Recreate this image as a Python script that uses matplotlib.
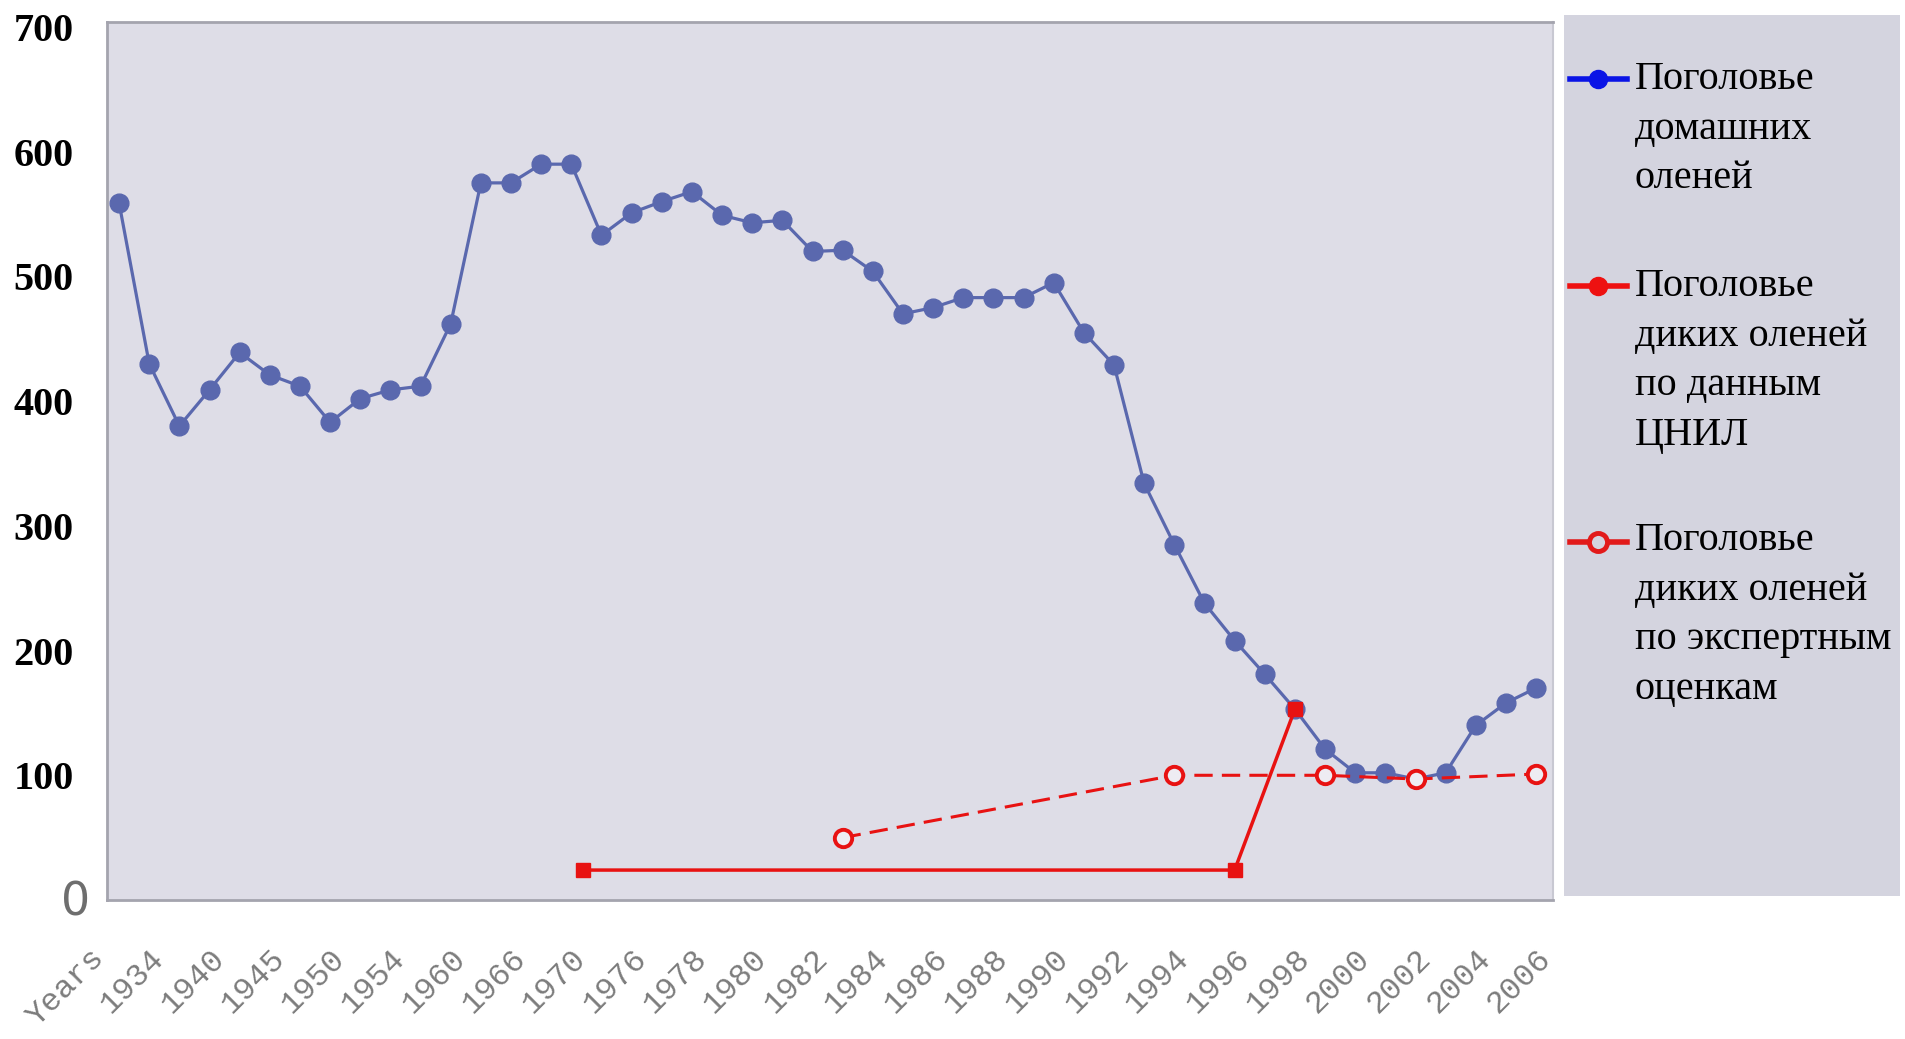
import matplotlib.pyplot as plt
from matplotlib.lines import Line2D
from matplotlib.patches import Rectangle

# x tick labels (every second point of the domestic series)
tick_labels = ["Years", "1934", "1940", "1945", "1950", "1954", "1960", "1966",
               "1970", "1976", "1978", "1980", "1982", "1984", "1986", "1988",
               "1990", "1992", "1994", "1996", "1998", "2000", "2002", "2004", "2006"]

# domestic reindeer, thousands (48 points)
domestic = [559, 430, 380, 409, 439, 421, 412, 383, 402, 409, 412, 462,
            575, 575, 590, 590, 533, 551, 560, 568, 549, 543, 545, 520,
            521, 504, 470, 475, 483, 483, 483, 495, 455, 429, 334, 285,
            238, 208, 181, 153, 121, 102, 102, 97, 102, 140, 158, 170]

# wild reindeer, CNIL data (position in point units, value)
cnil_pos = [15.4, 37, 39]
cnil_vals = [24, 24, 153]

# wild reindeer, expert estimates
expert_pos = [24, 35, 40, 43, 47]
expert_vals = [50, 100, 100, 97, 101]

y_ticks = [100, 200, 300, 400, 500, 600, 700]

legend_texts = [
    "Поголовье\nдомашних\nоленей",
    "Поголовье\nдиких оленей\nпо данным\nЦНИЛ",
    "Поголовье\nдиких оленей\nпо экспертным\nоценкам",
]

W, H = 1906, 1039
fig = plt.figure(figsize=(W / 100, H / 100), dpi=100)
fig.patch.set_facecolor("white")


def fx(px):
    return px / W


def fy(py):
    return 1 - py / H


ax = fig.add_axes([fx(107), fy(900), fx(1553) - fx(107), fy(22) - fy(900)])
ax.set_facecolor("#dedde7")

blue = "#5a68ae"
red = "#e81212"

x_dom = list(range(len(domestic)))
ax.plot(x_dom, domestic, color=blue, lw=2.3, marker="o", ms=13.5,
        mfc=blue, mec=blue, zorder=2)
ax.plot(expert_pos, expert_vals, color=red, lw=2.2, ls=(0, (6, 3)),
        marker="o", ms=12.5, mfc="#eeecf2", mec=red, mew=2.8, zorder=3)
ax.plot(cnil_pos, cnil_vals, color=red, lw=2.5, marker="s", ms=10,
        mfc=red, mec=red, zorder=4)

ax.set_yticks(y_ticks)
ax.set_yticklabels([str(v) for v in y_ticks], fontsize=29, fontweight="bold",
                   family="Liberation Serif", color="black")
ax.tick_params(axis="y", length=0, pad=24)
ax.annotate("0", xy=(0, 0), xycoords=("axes fraction", "data"),
            xytext=(-12, -2), textcoords="offset points", ha="right",
            va="center", fontsize=33, color="#6e6e6e", family="DejaVu Sans")

# x labels as annotations: the first one sits left of the plot edge
ax.set_xticks([])
tick_pos = [2 * k - 1 for k in range(len(tick_labels))]
for pos, lab in zip(tick_pos, tick_labels):
    ax.annotate(lab, xy=(pos, 0), xycoords=("data", "axes fraction"),
                xytext=(0, -31), textcoords="offset points", rotation=45,
                ha="right", va="top", rotation_mode="anchor", fontsize=23,
                color="#7c7c7c", family="Liberation Mono",
                annotation_clip=False)

ax.set_xlim(-0.4, 47.56)
ax.set_ylim(0, 704)

for side in ["top", "left", "bottom"]:
    ax.spines[side].set_color("#a4a4ae")
    ax.spines[side].set_linewidth(2)
ax.spines["right"].set_color("#c8c8d2")
ax.spines["right"].set_linewidth(1.5)

# legend panel
fig.patches.append(Rectangle((fx(1564), fy(896)), fx(1900) - fx(1564),
                             fy(15) - fy(896), transform=fig.transFigure,
                             facecolor="#d4d4df", edgecolor="none", zorder=0))

icon_rows = [79, 286, 542]
text_tops = [61, 268, 522]
styles = [
    dict(color="#0a14e6", mfc="#0a14e6", mec="#0a14e6"),
    dict(color="#ee1111", mfc="#ee1111", mec="#ee1111"),
    dict(color="#e21a1a", mfc="#d4d4df", mec="#e21a1a", mew=3.5),
]
for yi, yt, st, txt in zip(icon_rows, text_tops, styles, legend_texts):
    fig.add_artist(Line2D([fx(1570), fx(1598), fx(1627)], [fy(yi)] * 3,
                          transform=fig.transFigure, lw=4, marker="o", ms=13,
                          markevery=[1], **st))
    fig.text(fx(1635), fy(yt), txt, ha="left", va="top", fontsize=29,
             family="Liberation Serif", color="black", linespacing=1.45)

fig.savefig("out.png", dpi=100)
